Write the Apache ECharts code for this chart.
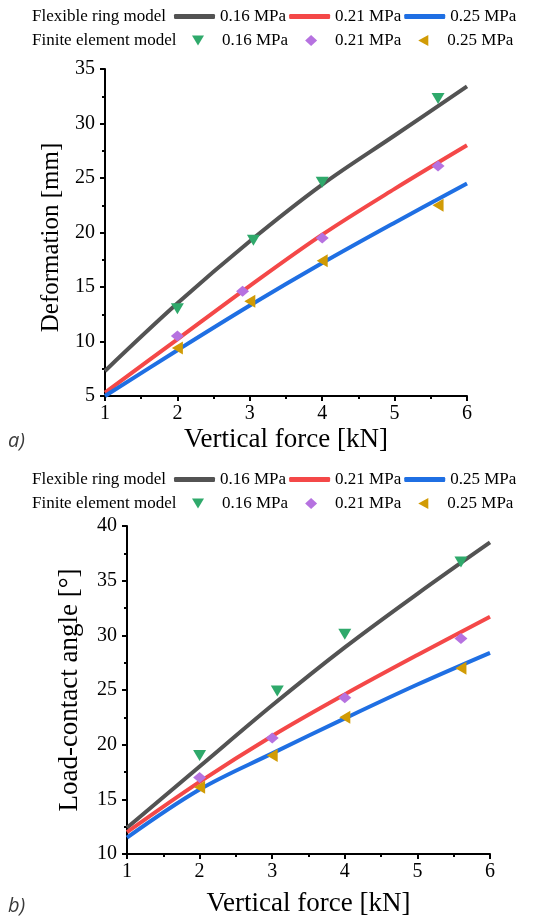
<!DOCTYPE html>
<html><head><meta charset="utf-8">
<script src="https://cdn.jsdelivr.net/npm/echarts@6/dist/echarts.min.js"></script>
<style>html,body{margin:0;padding:0;background:#fff}#c{width:558px;height:919px}</style>
</head><body><div id="c"></div>
<script>
// Shared x grid for model curves
const forceX = [1, 2, 3, 4, 5, 6];
// (a) Deformation [mm] - flexible ring model
const defRing016 = [7.3, 13.5, 19.2, 24.4, 28.9, 33.4];
const defRing021 = [5.3, 10.2, 15.1, 19.8, 24.0, 28.0];
const defRing025 = [5.0, 9.2, 13.3, 17.2, 20.9, 24.5];
// (a) finite element points
const defFeX016 = [2, 3.05, 4, 5.6];
const defFe016 = [13.0, 19.3, 24.6, 32.3];
const defFeX021 = [2, 2.9, 4, 5.6];
const defFe021 = [10.5, 14.6, 19.5, 26.1];
const defFeX025 = [2, 3, 4, 5.6];
const defFe025 = [9.4, 13.7, 17.4, 22.5];
// (b) Load-contact angle [°] - flexible ring model
const angRing016 = [12.4, 18.0, 23.6, 28.9, 33.8, 38.5];
const angRing021 = [12.0, 16.6, 20.8, 24.6, 28.2, 31.7];
const angRing025 = [11.5, 15.9, 19.2, 22.4, 25.5, 28.4];
// (b) finite element points
const angFeX016 = [2, 3.07, 4, 5.6];
const angFe016 = [19.0, 24.9, 30.1, 36.7];
const angFeX021 = [2, 3, 4, 5.6];
const angFe021 = [17.0, 20.6, 24.3, 29.7];
const angFeX025 = [2, 3, 4, 5.6];
const angFe025 = [16.1, 19.0, 22.5, 27.0];
const pressureLabels = ['0.16 MPa', '0.21 MPa', '0.25 MPa'];

const C = {black:'#535353', red:'#f44848', blue:'#1f6fe3', green:'#2fa96b', purple:'#b672e0', gold:'#d19b05'};
const serif = '"Liberation Serif", "Times New Roman", serif';
const zip = (xs, ys) => xs.map((x,i)=>[x, ys[i]]);

function xAxis(gi, gap){
  return {type:'value', gridIndex:gi, min:1, max:6, interval:1,
    name:'Vertical force [kN]', nameLocation:'middle', nameGap:gap,
    nameTextStyle:{fontFamily:serif, fontSize:27, color:'#000'},
    axisLine:{lineStyle:{color:'#000', width:2}},
    axisTick:{inside:false, length:5, lineStyle:{width:2, color:'#000'}},
    minorTick:{show:true, splitNumber:2, length:3, lineStyle:{width:2, color:'#000'}},
    axisLabel:{fontFamily:serif, fontSize:20, color:'#000', margin:8},
    splitLine:{show:false}};
}
function yAxis(gi, name, min, max, gap, fs, pad){
  return {type:'value', gridIndex:gi, min:min, max:max, interval:5,
    name:name, nameLocation:'middle', nameGap:gap,
    nameTextStyle:{fontFamily:serif, fontSize:fs, color:'#000', padding:pad},
    axisLine:{show:true, lineStyle:{color:'#000', width:2}},
    axisTick:{show:true, inside:false, length:5, lineStyle:{width:2, color:'#000'}},
    minorTick:{show:true, splitNumber:2, length:3, lineStyle:{width:2, color:'#000'}},
    axisLabel:{fontFamily:serif, fontSize:20, color:'#000', margin:10},
    splitLine:{show:false}};
}
function line(name, gi, ys, color){
  return {name:name, type:'line', xAxisIndex:gi, yAxisIndex:gi, data:zip(forceX, ys),
    smooth:0.35, symbol:'none', lineStyle:{color:color, width:4}, itemStyle:{color:color}, z:2};
}
function pts(name, gi, xs, ys, sym, rot, color){
  return {name:name, type:'scatter', xAxisIndex:gi, yAxisIndex:gi, data:zip(xs, ys),
    symbol:sym, symbolRotate:rot, symbolSize:[13,11], itemStyle:{color:color, opacity:1}, z:3};
}
const L = pressureLabels;
const series = [
  line('R'+L[0], 0, defRing016, C.black), line('R'+L[1], 0, defRing021, C.red), line('R'+L[2], 0, defRing025, C.blue),
  pts('F'+L[0], 0, defFeX016, defFe016, 'triangle', 180, C.green),
  pts('F'+L[1], 0, defFeX021, defFe021, 'diamond', 0, C.purple),
  pts('F'+L[2], 0, defFeX025, defFe025, 'triangle', 90, C.gold),
  line('R'+L[0], 1, angRing016, C.black), line('R'+L[1], 1, angRing021, C.red), line('R'+L[2], 1, angRing025, C.blue),
  pts('F'+L[0], 1, angFeX016, angFe016, 'triangle', 180, C.green),
  pts('F'+L[1], 1, angFeX021, angFe021, 'diamond', 0, C.purple),
  pts('F'+L[2], 1, angFeX025, angFe025, 'triangle', 90, C.gold)
];
const fmt = n => n.slice(1);
function legendRing(top){
  return {top:top, left:174, padding:0, orient:'horizontal', itemWidth:41, itemHeight:5, itemGap:3,
    icon:'roundRect',
    data:L.map(l=>({name:'R'+l})), formatter:fmt, selectedMode:false,
    textStyle:{fontFamily:serif, fontSize:17, color:'#000'}};
}
const feIcons = ['path://M0,0L12,0L6,10Z', 'diamond', 'path://M11,0L11,12L0,6Z'];
function legendFe(top){
  return {top:top, left:192, padding:0, orient:'horizontal', itemWidth:12, itemHeight:11, itemGap:17,
    symbolRotate:0,
    data:L.map((l,i)=>({name:'F'+l, icon:feIcons[i]})), formatter:fmt, selectedMode:false,
    textStyle:{fontFamily:serif, fontSize:17, color:'#000', padding:[0,0,0,13]}};
}
const chart = echarts.init(document.getElementById('c'), null, {renderer:'canvas'});
chart.setOption({
  animation:false,
  grid:[{left:105, right:91, top:69, bottom:523, containLabel:false},
        {left:127, right:68, top:526, bottom:65, containLabel:false}],
  xAxis:[xAxis(0, 30), xAxis(1, 36)],
  yAxis:[yAxis(0, 'Deformation [mm]', 5, 35, 38, 25, [0,10,0,0]), yAxis(1, 'Load-contact angle [°]', 10, 40, 44, 27, 0)],
  legend:[legendRing(8), legendFe(32), legendRing(471), legendFe(495)],
  graphic:[
    {type:'text', left:32, top:8, style:{text:'Flexible ring model', font:'17px "Liberation Serif"', fill:'#000'}},
    {type:'text', left:32, top:32, style:{text:'Finite element model', font:'17px "Liberation Serif"', fill:'#000'}},
    {type:'text', left:32, top:471, style:{text:'Flexible ring model', font:'17px "Liberation Serif"', fill:'#000'}},
    {type:'text', left:32, top:495, style:{text:'Finite element model', font:'17px "Liberation Serif"', fill:'#000'}},
    {type:'text', left:8, top:431, style:{text:'a)', font:'italic 20px "Open Sans"', fill:'#3a3a3a'}},
    {type:'text', left:8, top:896, style:{text:'b)', font:'italic 20px "Open Sans"', fill:'#3a3a3a'}}
  ],
  series:series
});
</script></body></html>
